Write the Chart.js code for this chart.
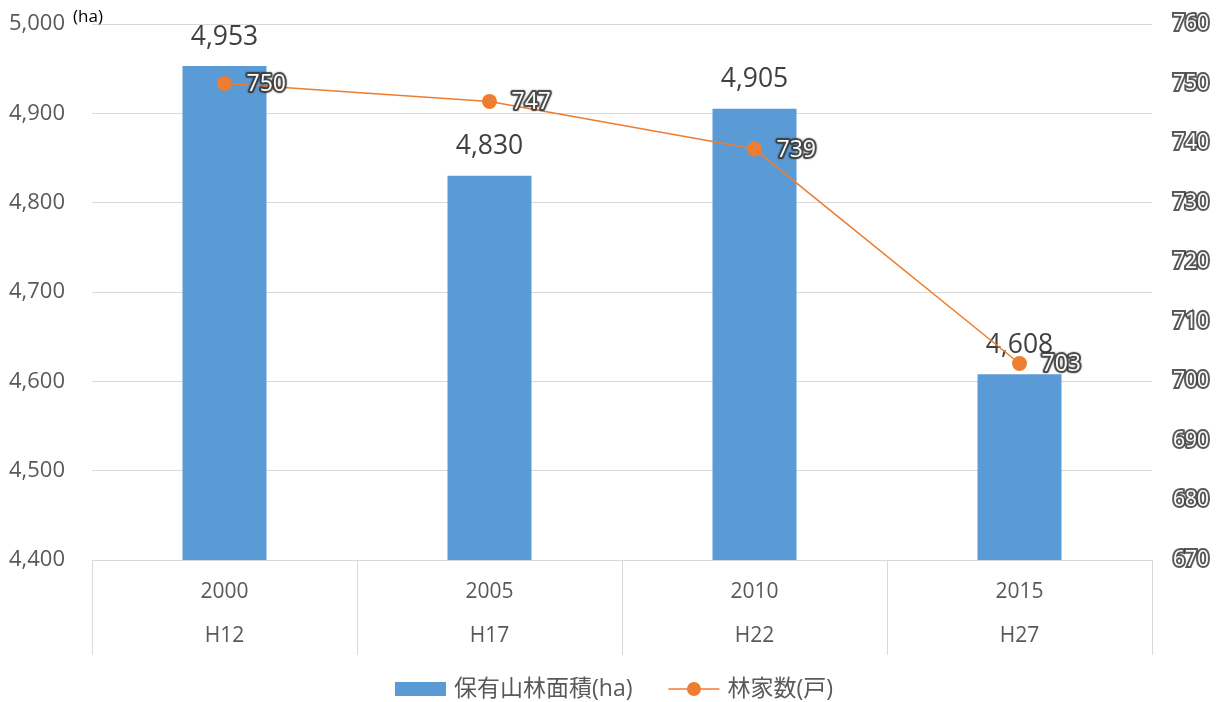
<!DOCTYPE html>
<html>
<head>
<meta charset="utf-8">
<script src="https://cdn.jsdelivr.net/npm/chart.js@4.4.1/dist/chart.umd.min.js"></script>
<style>
  html, body { margin: 0; padding: 0; background: #fff; }
  canvas { display: block; }
</style>
</head>
<body>
<canvas id="forestChart" width="1228" height="702"></canvas>
<script>
// 年次（西暦・平成）
const years = ["2000", "2005", "2010", "2015"];
const eras = ["H12", "H17", "H22", "H27"];
// 保有山林面積 (ha)
const forestArea = [4953, 4830, 4905, 4608];
// 林家数 (戸)
const households = [750, 747, 739, 703];

const FONT = "'Open Sans', 'Noto Sans CJK JP', sans-serif";
const GRID = "#d9d9d9";
const TEXT = "#595959";
const BLUE = "#5b9bd5";
const ORANGE = "#ed7d31";

const fmt = (v) => v.toLocaleString("en-US");

// ====================================================
// 縁取り文字（白抜き）
// ====================================================
function outlinedText(ctx, text, x, y) {
  ctx.save();
  ctx.lineJoin = "round";
  ctx.lineWidth = 4;
  ctx.strokeStyle = "rgba(60,60,60,0.85)";
  ctx.shadowColor = "rgba(0,0,0,0.5)";
  ctx.shadowBlur = 2;
  ctx.strokeText(text, x, y);
  ctx.shadowBlur = 0;
  ctx.fillStyle = "#fff";
  ctx.fillText(text, x, y);
  ctx.restore();
}

// 縦軸の端ラベル分の余白を詰める
function fixedWidth(w) {
  return (scale) => {
    scale.width = w;
    scale.paddingTop = 0;
    scale.paddingBottom = 0;
  };
}

// ====================================================
// データラベル・区切り線・凡例などの描画
// ====================================================
const decorations = {
  id: "decorations",
  afterDatasetDraw(chart, args) {
    // 棒のラベルは折れ線より下に描く
    if (args.meta.type !== "bar") return;
    const ctx = chart.ctx;
    ctx.save();
    ctx.font = "26.5px " + FONT;
    ctx.fillStyle = "#404040";
    ctx.textAlign = "center";
    ctx.textBaseline = "middle";
    args.meta.data.forEach((bar, i) => {
      ctx.fillText(fmt(forestArea[i]), bar.x, bar.y - 29);
    });
    ctx.restore();
  },
  afterDatasetsDraw(chart) {
    const ctx = chart.ctx;
    const area = chart.chartArea;
    const x = chart.scales.x;

    // 折れ線のラベル
    const lineMeta = chart.getDatasetMeta(1);
    ctx.save();
    ctx.font = "23px " + FONT;
    ctx.textAlign = "left";
    ctx.textBaseline = "middle";
    lineMeta.data.forEach((pt, i) => {
      outlinedText(ctx, String(households[i]), pt.x + 22, pt.y + 1);
    });
    ctx.restore();

    // 軸下の区切り線
    const step = x.getPixelForTick(1) - x.getPixelForTick(0);
    ctx.save();
    ctx.strokeStyle = GRID;
    ctx.lineWidth = 1;
    ctx.beginPath();
    for (let i = 0; i <= years.length; i++) {
      const px = Math.round(x.getPixelForTick(0) - step / 2 + i * step) + 0.5;
      ctx.moveTo(px, area.bottom);
      ctx.lineTo(px, area.bottom + 95);
    }
    ctx.stroke();
    ctx.restore();

    // 単位 (ha)
    ctx.save();
    ctx.font = "17px " + FONT;
    const uw = ctx.measureText("(ha)").width;
    ctx.fillStyle = "#fff";
    ctx.fillRect(73, 6, uw + 2, 18);
    ctx.fillStyle = "#000";
    ctx.textAlign = "left";
    ctx.textBaseline = "middle";
    ctx.fillText("(ha)", 73, 17);
    ctx.restore();

    // 凡例
    const labels = chart.data.datasets.map((d) => d.label);
    ctx.save();
    ctx.font = "23px " + FONT;
    ctx.textBaseline = "middle";
    ctx.textAlign = "left";
    const boxW = 51, gap = 8, itemGap = 36;
    const w0 = ctx.measureText(labels[0]).width;
    const w1 = ctx.measureText(labels[1]).width;
    const total = boxW + gap + w0 + itemGap + boxW + gap + w1;
    let lx = chart.width / 2 - total / 2;
    const ly = 689;
    ctx.fillStyle = BLUE;
    ctx.fillRect(lx, ly - 7, boxW, 14);
    ctx.fillStyle = TEXT;
    ctx.fillText(labels[0], lx + boxW + gap, ly);
    lx += boxW + gap + w0 + itemGap;
    ctx.strokeStyle = ORANGE;
    ctx.lineWidth = 1.5;
    ctx.beginPath();
    ctx.moveTo(lx, ly);
    ctx.lineTo(lx + boxW, ly);
    ctx.stroke();
    ctx.fillStyle = ORANGE;
    ctx.beginPath();
    ctx.arc(lx + boxW / 2, ly, 7, 0, Math.PI * 2);
    ctx.fill();
    ctx.fillStyle = TEXT;
    ctx.fillText(labels[1], lx + boxW + gap, ly);
    ctx.restore();
  },
};

const ctx = document.getElementById("forestChart").getContext("2d");
new Chart(ctx, {
  data: {
    labels: years.map((y, i) => [y, eras[i]]),
    datasets: [
      {
        type: "bar",
        label: "保有山林面積(ha)",
        data: forestArea,
        backgroundColor: BLUE,
        yAxisID: "y",
        categoryPercentage: 1,
        barPercentage: 0.317,
        order: 2,
      },
      {
        type: "line",
        label: "林家数(戸)",
        data: households,
        borderColor: ORANGE,
        borderWidth: 1.5,
        backgroundColor: ORANGE,
        pointBackgroundColor: ORANGE,
        pointBorderWidth: 0,
        pointRadius: 7.5,
        tension: 0,
        yAxisID: "y1",
        order: 1,
      },
    ],
  },
  options: {
    responsive: false,
    animation: false,
    devicePixelRatio: 1,
    layout: { padding: { left: 0, right: 0, top: 24, bottom: 42 } },
    plugins: {
      legend: { display: false },
      tooltip: { enabled: false },
    },
    scales: {
      x: {
        offset: true,
        grid: { display: false, drawTicks: false },
        border: { display: true, color: GRID },
        ticks: {
          color: TEXT,
          padding: 10,
          font: { family: FONT, size: 21, lineHeight: 2.1 },
          maxRotation: 0,
        },
        afterFit(scale) {
          scale.height = 100;
          scale.paddingLeft = 0;
          scale.paddingRight = 0;
        },
      },
      y: {
        position: "left",
        min: 4400,
        max: 5000,
        grid: { color: GRID, drawTicks: false },
        border: { display: false },
        ticks: {
          stepSize: 100,
          color: TEXT,
          padding: 27,
          font: { family: FONT, size: 22 },
          callback: (v) => fmt(v),
        },
        afterFit: fixedWidth(92),
      },
      y1: {
        position: "right",
        min: 670,
        max: 760,
        grid: { display: false, drawTicks: false },
        border: { display: false },
        ticks: {
          stepSize: 10,
          color: "#fff",
          textStrokeColor: "rgba(60,60,60,0.85)",
          textStrokeWidth: 4,
          padding: 21,
          font: { family: FONT, size: 21 },
        },
        afterFit: fixedWidth(76),
      },
    },
  },
  plugins: [decorations],
});
</script>
</body>
</html>
